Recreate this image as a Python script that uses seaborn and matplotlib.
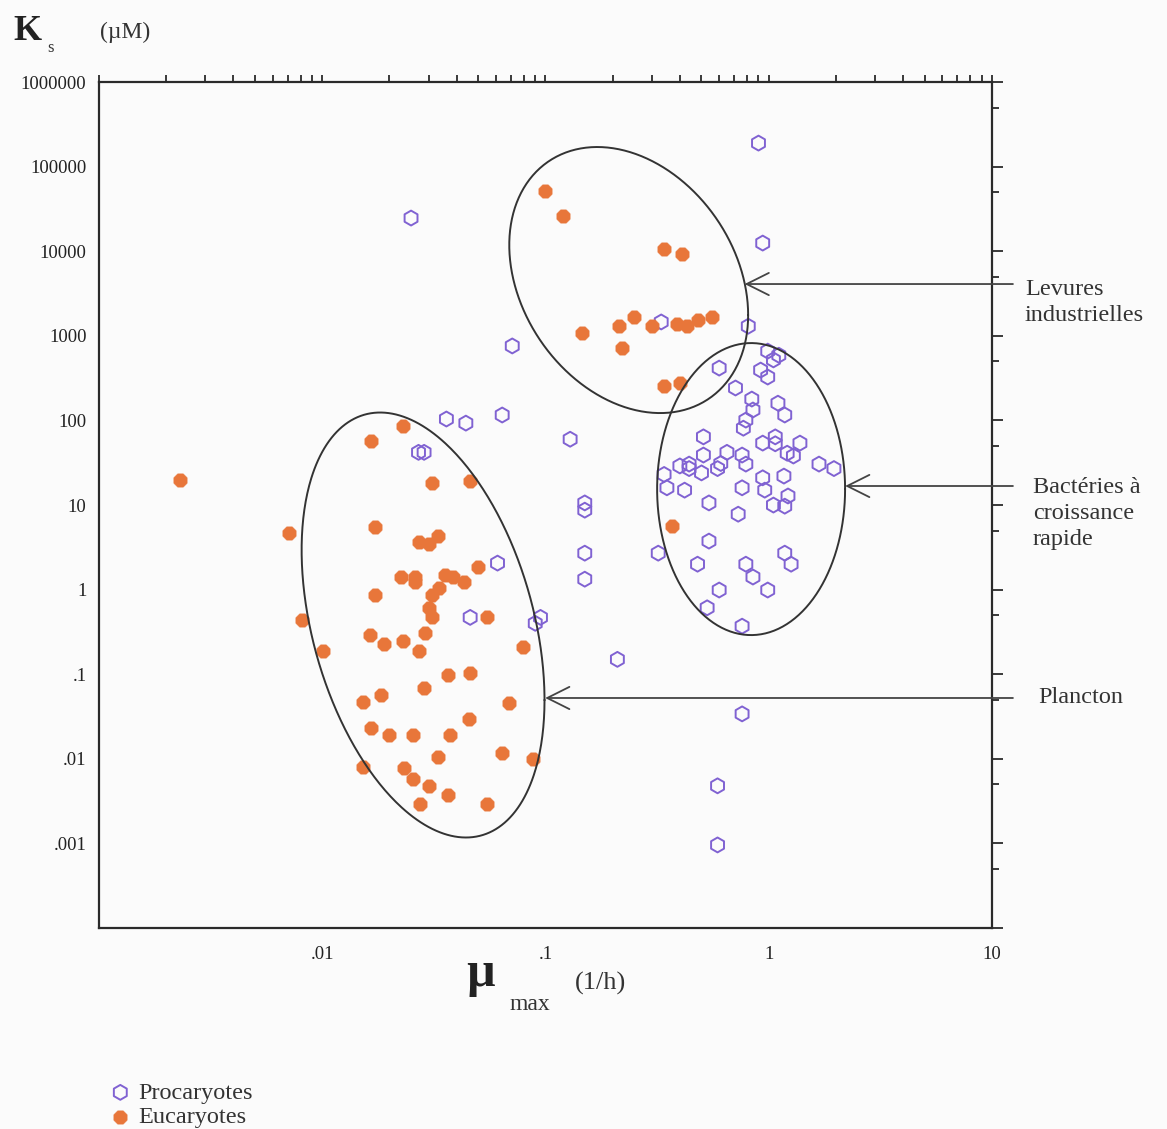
import numpy as np
import pandas as pd
import matplotlib
matplotlib.use("Agg")
import matplotlib.pyplot as plt
import matplotlib.ticker as mticker
import seaborn as sns

# ---------------- data : mu_max (1/h) and Ks (uM) ----------------
euk_mu = [0.0023, 0.0071, 0.0081, 0.0101, 0.023, 0.0166, 0.031, 0.046, 0.0173, 0.027,
          0.030, 0.033, 0.050, 0.0226, 0.026, 0.026, 0.0356, 0.0386, 0.043, 0.0334,
          0.031, 0.030, 0.031, 0.0173, 0.055, 0.029, 0.0164, 0.019, 0.023, 0.027,
          0.0795, 0.0367, 0.046, 0.0286, 0.0153, 0.0184, 0.069, 0.0455, 0.0166, 0.020,
          0.0256, 0.0374, 0.033, 0.064, 0.088, 0.0153, 0.0233, 0.0256, 0.030, 0.0367,
          0.0275, 0.055, 0.37, 0.10, 0.12, 0.34, 0.41, 0.146, 0.214, 0.25,
          0.30, 0.39, 0.43, 0.48, 0.56, 0.22, 0.34, 0.40]
euk_ks = [20, 4.7, 0.44, 0.19, 86, 57, 18, 19, 5.5, 3.7,
          3.5, 4.3, 1.85, 1.4, 1.4, 1.23, 1.49, 1.41, 1.23, 1.04,
          0.86, 0.61, 0.47, 0.86, 0.47, 0.31, 0.29, 0.23, 0.25, 0.19,
          0.21, 0.098, 0.103, 0.069, 0.047, 0.057, 0.046, 0.0295, 0.023, 0.019,
          0.019, 0.019, 0.0105, 0.0117, 0.0099, 0.0080, 0.0078, 0.0058, 0.0048, 0.0037,
          0.0029, 0.0029, 5.6, 51000, 26000, 10600, 9300, 1080, 1300, 1670,
          1300, 1380, 1300, 1540, 1670, 720, 255, 277]

pro_mu = [0.025, 0.90, 0.94, 0.071, 0.81, 0.33, 0.036, 0.044, 0.064, 0.129,
          0.027, 0.0286, 0.061, 0.046, 0.095, 0.090, 0.15, 0.15, 0.15, 0.15,
          0.21, 0.76, 0.59, 0.59, 0.32,
          0.99, 1.05, 1.11, 0.60, 0.92, 0.99, 0.71, 0.84, 1.10, 0.85,
          1.18, 0.79, 0.77, 0.51, 1.07, 0.94, 1.07, 1.38, 0.65, 0.76,
          0.51, 1.21, 1.29, 0.79, 0.61, 0.44, 0.40, 0.44, 0.50, 0.59,
          0.34, 1.68, 1.96, 0.94, 1.17, 0.35, 0.42, 0.76, 0.96, 1.22,
          1.05, 1.18, 0.54, 0.73, 0.54, 0.48, 0.79, 1.18, 1.26, 0.85,
          0.60, 0.99, 0.53, 0.76]
pro_ks = [24700, 190000, 12500, 760, 1300, 1460, 104, 93, 116, 60,
          42, 42, 2.06, 0.47, 0.47, 0.40, 10.6, 8.7, 2.7, 1.33,
          0.15, 0.034, 0.0048, 0.00096, 2.7,
          660, 520, 590, 416, 394, 326, 242, 179, 160, 133,
          116, 101, 81, 64, 64, 54, 53, 54, 42, 39,
          39, 41, 38, 30.5, 31, 30.5, 29, 27, 24, 27,
          23, 30.5, 27, 21, 22, 16, 15, 16, 15, 12.8,
          10, 9.7, 10.6, 7.8, 3.75, 2.0, 2.0, 2.7, 2.0, 1.41,
          0.99, 0.99, 0.61, 0.37]

# group outlines: centre (mu, Ks) and two half-axis vectors in decades (log10 mu, log10 Ks)
groups = ["Levures\nindustrielles", "Bactéries à\ncroissance\nrapide", "Plancton"]
group_centre = [(0.236, 4570), (0.834, 15.45), (0.0283, 0.382)]
group_axis_u = [(0.535, -0.414), (0.421, 0.0), (0.544, -0.887)]
group_axis_v = [(0.0, -1.517), (0.0, 1.726), (0.0, -2.35)]
# arrow tip on each outline and label anchor (top of text block, in Ks units)
arrow_tip = [(0.78, 4100), (2.20, 16.8), (0.0997, 0.0524)]
label_ks = [4700, 21.5, 0.0524]
label_x = [1.037, 1.046, 1.0515]
label_va = ["top", "top", "center"]

y_ticks = [1e-4, 1e-3, 1e-2, 1e-1, 1, 10, 100, 1e3, 1e4, 1e5, 1e6]
y_tick_labels = ["", ".001", ".01", ".1", "1", "10", "100", "1000", "10000", "100000", "1000000"]
x_ticks = [1e-3, 1e-2, 1e-1, 1, 10]
x_tick_labels = ["", ".01", ".1", "1", "10"]

# ---------------- style ----------------
sns.set_style("white")
plt.rcParams["font.family"] = ["Liberation Serif", "DejaVu Serif"]

PURPLE = "#8062d2"
ORANGE = "#e8763a"
INK = "#2a2a2a"
BG = "#fbfbfb"

fig = plt.figure(figsize=(11.67, 11.29), dpi=100, facecolor=BG)
ax = fig.add_axes([0.0848, 0.178, 0.7652, 0.7493], facecolor=BG)

pro = pd.DataFrame({"mu": pro_mu, "ks": pro_ks})
euk = pd.DataFrame({"mu": euk_mu, "ks": euk_ks})

sns.scatterplot(data=pro, x="mu", y="ks", ax=ax, marker="h", s=115,
                facecolors="none", edgecolor=PURPLE, linewidth=1.4,
                label="Procaryotes", zorder=3)
sns.scatterplot(data=euk, x="mu", y="ks", ax=ax, marker="8", s=105,
                color=ORANGE, edgecolor=ORANGE, linewidth=0.5,
                label="Eucaryotes", zorder=4)

ax.set_xscale("log")
ax.set_yscale("log")
ax.set_xlim(1e-3, 10)
ax.set_ylim(1e-4, 1e6)

# outlines around the three groups, drawn in log space
t = np.linspace(0, 2 * np.pi, 400)
for c, u, v in zip(group_centre, group_axis_u, group_axis_v):
    lx = np.log10(c[0]) + u[0] * np.cos(t) + v[0] * np.sin(t)
    ly = np.log10(c[1]) + u[1] * np.cos(t) + v[1] * np.sin(t)
    sns.lineplot(x=10 ** lx, y=10 ** ly, ax=ax, sort=False, estimator=None,
                 color="#333333", linewidth=1.4, zorder=5)

# arrows and group names on the right
yx = ax.get_yaxis_transform()
for name, tip, lk, lxp, va in zip(groups, arrow_tip, label_ks, label_x, label_va):
    ax.annotate("", xy=tip, xycoords="data", xytext=(1.0235, tip[1]), textcoords=yx,
                arrowprops=dict(arrowstyle="->,head_length=1.6,head_width=0.8",
                                mutation_scale=10, lw=1.3, color="#444444",
                                shrinkA=0, shrinkB=0),
                annotation_clip=False, zorder=6)
    ax.text(lxp, lk, name, transform=yx, ha="left", va=va, fontsize=17.5,
            color="#333333", linespacing=1.3)

# axes frame and ticks
for sp in ax.spines.values():
    sp.set_visible(True)
    sp.set_color(INK)
    sp.set_linewidth(1.6)

ax.xaxis.set_major_locator(mticker.FixedLocator(x_ticks))
ax.xaxis.set_major_formatter(mticker.FixedFormatter(x_tick_labels))
ax.xaxis.set_minor_locator(mticker.LogLocator(base=10, subs=np.arange(2, 10)))
ax.xaxis.set_minor_formatter(mticker.NullFormatter())
ax.yaxis.set_major_locator(mticker.FixedLocator(y_ticks))
ax.yaxis.set_major_formatter(mticker.FixedFormatter(y_tick_labels))
ax.yaxis.set_minor_locator(mticker.LogLocator(base=10, subs=[5.0]))
ax.yaxis.set_minor_formatter(mticker.NullFormatter())

ax.tick_params(which="both", direction="out", top=True, right=True,
               color=INK, width=1.3, labelcolor="#222222")
ax.tick_params(axis="x", which="both", length=5, pad=8, labelsize=13.5)
ax.tick_params(axis="y", which="major", length=8, pad=1, labelsize=13.5)
ax.tick_params(axis="y", which="minor", length=5)
ax.set_xlabel("")
ax.set_ylabel("")

# axis titles
fig.text(13 / 1167, 1 - 31 / 1129, "K", fontsize=26, fontweight="bold",
         ha="left", va="center", color="#222222")
fig.text(47 / 1167, 1 - 48 / 1129, "s", fontsize=12, ha="left", va="center", color="#333333")
fig.text(100 / 1167, 1 - 32 / 1129, "(µM)", fontsize=17, ha="left", va="center", color="#333333")

fig.text(466 / 1167, 1 - 974 / 1129, "µ", fontsize=36, fontweight="bold",
         ha="left", va="center", color="#222222")
fig.text(510 / 1167, 1 - 1005 / 1129, "max", fontsize=17, ha="left", va="center", color="#333333")
fig.text(575 / 1167, 1 - 983 / 1129, "(1/h)", fontsize=19, ha="left", va="center", color="#333333")

# legend at the bottom left
handles, labels = ax.get_legend_handles_labels()
if ax.get_legend() is not None:
    ax.get_legend().remove()
fig.legend(handles, labels, loc="upper left", bbox_to_anchor=(96 / 1167, 1 - 1072 / 1129),
           frameon=False, fontsize=17.5, handletextpad=0.15, labelspacing=0.1,
           handlelength=1.2, borderaxespad=0, labelcolor="#333333")

fig.savefig("out.png", dpi=100, facecolor=BG)
